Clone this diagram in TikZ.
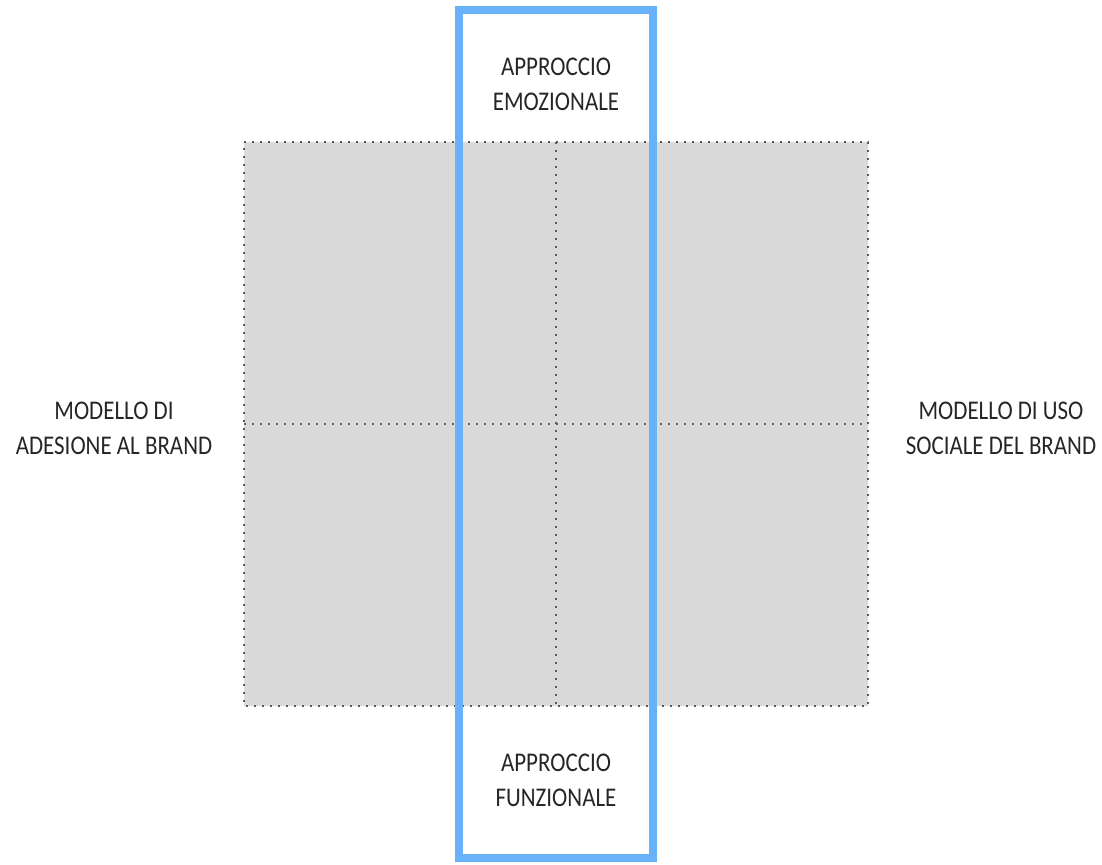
\documentclass[tikz,border=0pt]{standalone}
\usepackage{fontspec}
\newfontfamily\labfont[FakeStretch=0.85]{Carlito}
\definecolor{boxgray}{HTML}{D9D9D9}
\definecolor{bandblue}{RGB}{104,178,250}
\definecolor{dotgray}{RGB}{90,90,90}
\begin{document}
\begin{tikzpicture}[x=1pt,y=-1pt,
  lab/.style={align=center,inner sep=0pt,text=black!85,font=\labfont\fontsize{27}{35}\selectfont},
  dotline/.style={draw=dotgray,line width=2pt,dash pattern=on 2pt off 6pt},
  band/.style={draw=bandblue,line width=8.5pt}]
\useasboundingbox (0,0) rectangle (1102,864);
\fill[boxgray] (244,142) rectangle (868,706);
\draw[dotline] (244,142) -- (868,142) -- (868,706) -- (244,706) -- cycle;
\draw[dotline] (556,142) -- (556,706);
\draw[dotline] (244,424) -- (868,424);
\draw[band] (459,10) rectangle (653,858);
\node[lab] (top) at (556,84) {APPROCCIO\\EMOZIONALE};
\node[lab] (bot) at (556,780) {APPROCCIO\\FUNZIONALE};
\node[lab] (left) at (114,428) {MODELLO DI\\ADESIONE AL BRAND};
\node[lab] (right) at (1001,428) {MODELLO DI USO\\SOCIALE DEL BRAND};
\end{tikzpicture}
\end{document}
